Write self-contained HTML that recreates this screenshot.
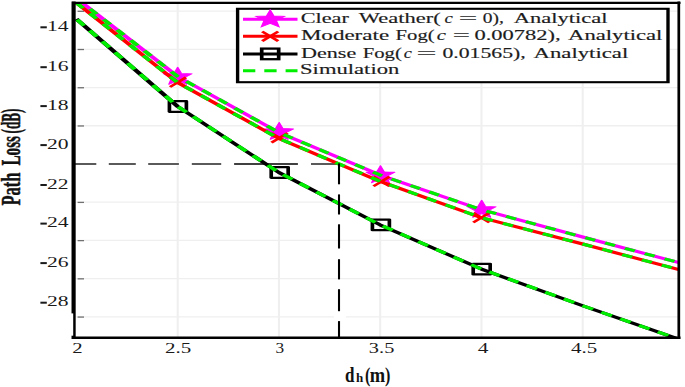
<!DOCTYPE html><html><head><meta charset="utf-8"><style>html,body{margin:0;padding:0;background:#fff;overflow:hidden;}svg{display:block;}text{font-family:"Liberation Serif",serif;}</style></head><body>
<svg width="685" height="387" viewBox="0 0 685 387">
<rect width="685" height="387" fill="#fff"/>
<g>
<defs><clipPath id="cp"><rect x="46.00" y="2.90" width="378.25" height="334.80"/></clipPath></defs>
<g transform="scale(1.6,1)">
<g stroke="#efefef" stroke-width="1.3"><line x1="111.06" y1="2.9" x2="111.06" y2="337.7"/><line x1="174.34" y1="80" x2="174.34" y2="337.7"/><line x1="237.62" y1="80" x2="237.62" y2="337.7"/><line x1="300.91" y1="80" x2="300.91" y2="337.7"/><line x1="364.19" y1="80" x2="364.19" y2="337.7"/><line x1="46.00" y1="11.10" x2="424.25" y2="11.10"/><line x1="46.00" y1="49.32" x2="424.25" y2="49.32"/><line x1="46.00" y1="87.54" x2="424.25" y2="87.54"/><line x1="46.00" y1="125.76" x2="424.25" y2="125.76"/><line x1="46.00" y1="163.98" x2="424.25" y2="163.98"/><line x1="46.00" y1="202.20" x2="424.25" y2="202.20"/><line x1="46.00" y1="240.42" x2="424.25" y2="240.42"/><line x1="46.00" y1="278.64" x2="424.25" y2="278.64"/><line x1="46.00" y1="316.86" x2="424.25" y2="316.86"/></g>
<g stroke="#707070" stroke-width="1.3"><line x1="48.50" y1="11.30" x2="52.50" y2="11.30"/><line x1="48.50" y1="49.52" x2="52.50" y2="49.52"/><line x1="48.50" y1="87.74" x2="52.50" y2="87.74"/><line x1="48.50" y1="125.96" x2="52.50" y2="125.96"/><line x1="48.50" y1="164.18" x2="52.50" y2="164.18"/><line x1="48.50" y1="202.40" x2="52.50" y2="202.40"/><line x1="48.50" y1="240.62" x2="52.50" y2="240.62"/><line x1="48.50" y1="278.84" x2="52.50" y2="278.84"/><line x1="48.50" y1="317.06" x2="52.50" y2="317.06"/></g>
<line x1="212.81" y1="164.0" x2="46.00" y2="164.0" stroke="#fff" stroke-width="3"/>
<rect x="208.62" y="315.36" width="7.50" height="3" fill="#fff"/>
<g stroke="#000" stroke-width="1.3"><line x1="46.25" y1="164.0" x2="60.19" y2="164.0"/><line x1="68.00" y1="164.0" x2="84.88" y2="164.0"/><line x1="92.62" y1="164.0" x2="111.81" y2="164.0"/><line x1="119.88" y1="164.0" x2="138.25" y2="164.0"/><line x1="146.31" y1="164.0" x2="186.19" y2="164.0"/><line x1="194.38" y1="164.0" x2="212.69" y2="164.0"/></g>
<g clip-path="url(#cp)" fill="none" stroke-linejoin="round">
<polyline points="47.78,-1.60 111.06,76.50 174.34,132.50 237.62,175.10 300.91,209.70 364.19,237.00 427.47,264.00" stroke="#ff00ff" stroke-width="3.0"/>
<polygon points="111.06,67.25 113.44,73.42 120.05,73.78 114.91,77.95 116.62,84.35 111.06,80.75 105.51,84.35 107.21,77.95 102.08,73.78 108.68,73.42" fill="#ff00ff" stroke="#ff00ff" stroke-width="0.8"/>
<polygon points="174.50,122.35 176.88,128.52 183.49,128.88 178.35,133.05 180.05,139.45 174.50,135.85 168.95,139.45 170.65,133.05 165.51,128.88 172.12,128.52" fill="#ff00ff" stroke="#ff00ff" stroke-width="0.8"/>
<polygon points="237.81,165.65 240.19,171.82 246.80,172.18 241.66,176.35 243.37,182.75 237.81,179.15 232.26,182.75 233.96,176.35 228.83,172.18 235.43,171.82" fill="#ff00ff" stroke="#ff00ff" stroke-width="0.8"/>
<polygon points="301.06,200.25 303.44,206.42 310.05,206.78 304.91,210.95 306.62,217.35 301.06,213.75 295.51,217.35 297.21,210.95 292.08,206.78 298.68,206.42" fill="#ff00ff" stroke="#ff00ff" stroke-width="0.8"/>
<polyline points="47.78,2.80 111.06,82.60 174.34,138.50 237.62,181.40 300.91,217.70 364.19,244.00 427.47,271.00" stroke="#ff0000" stroke-width="3.0"/>
<path d="M106.25,77.40L116.25,87.00M106.25,87.00L116.25,77.40" stroke="#ff0000" stroke-width="2.2"/>
<path d="M169.69,133.00L179.69,142.60M169.69,142.60L179.69,133.00" stroke="#ff0000" stroke-width="2.2"/>
<path d="M233.44,176.60L243.44,186.20M233.44,186.20L243.44,176.60" stroke="#ff0000" stroke-width="2.2"/>
<path d="M295.81,212.90L305.81,222.50M295.81,222.50L305.81,212.90" stroke="#ff0000" stroke-width="2.2"/>
<polyline points="47.78,19.00 111.06,106.50 174.34,172.50 237.62,224.90 300.91,269.10 364.19,305.70 427.47,341.00" stroke="#000" stroke-width="3.0"/>
<rect x="105.89" y="101.20" width="10.60" height="10.60" stroke="#000" stroke-width="2.3"/>
<rect x="169.51" y="167.20" width="10.60" height="10.60" stroke="#000" stroke-width="2.3"/>
<rect x="232.76" y="219.60" width="10.60" height="10.60" stroke="#000" stroke-width="2.3"/>
<rect x="295.76" y="263.80" width="10.60" height="10.60" stroke="#000" stroke-width="2.3"/>
<polyline points="47.78,-1.60 111.06,76.50 174.34,132.50 237.62,175.10 300.91,209.70 364.19,237.00 427.47,264.00" stroke="#00ee00" stroke-width="3.0" stroke-dasharray="6.735 6.735" stroke-dashoffset="0"/>
<polyline points="47.78,2.80 111.06,82.60 174.34,138.50 237.62,181.40 300.91,217.70 364.19,244.00 427.47,271.00" stroke="#00ee00" stroke-width="3.0" stroke-dasharray="6.735 6.735" stroke-dashoffset="0"/>
<polyline points="47.78,19.00 111.06,106.50 174.34,172.50 237.62,224.90 300.91,269.10 364.19,305.70 427.47,341.00" stroke="#00ee00" stroke-width="3.0" stroke-dasharray="7.5 5.97" stroke-dashoffset="-0.72"/>
</g>
<g stroke="#000" stroke-width="1.3"><line x1="211.88" y1="163.4" x2="211.88" y2="184.3"/><line x1="211.88" y1="194.4" x2="211.88" y2="214.5"/><line x1="211.88" y1="224.3" x2="211.88" y2="248.5"/><line x1="211.88" y1="259.2" x2="211.88" y2="279.4"/><line x1="211.88" y1="289.2" x2="211.88" y2="311.2"/><line x1="211.88" y1="321.1" x2="211.88" y2="337.5"/></g>
<g stroke="#000" fill="none"><line x1="46.00" y1="1.6" x2="46.00" y2="339" stroke-width="2.6"/><line x1="424.25" y1="1.6" x2="424.25" y2="339" stroke-width="1.7"/><line x1="45.00" y1="2.9" x2="425.31" y2="2.9" stroke-width="2.2"/><line x1="45.00" y1="337.7" x2="425.31" y2="337.7" stroke-width="2.4"/></g>
<rect x="44.06" y="313.4" width="1.69" height="22.3" fill="#fff"/>
<rect x="148.50" y="8.8" width="269.00" height="73.40" fill="#fff" stroke="#000" stroke-width="2.1"/>
<line x1="151.88" y1="19.3" x2="185.94" y2="19.3" stroke="#ff00ff" stroke-width="3.0"/>
<polygon points="168.87,9.85 171.26,16.02 177.86,16.38 172.73,20.55 174.43,26.95 168.87,23.35 163.32,26.95 165.02,20.55 159.89,16.38 166.49,16.02" fill="#ff00ff" stroke="#ff00ff" stroke-width="0.8"/>
<line x1="151.88" y1="36.3" x2="185.94" y2="36.3" stroke="#ff0000" stroke-width="3.0"/>
<path d="M163.87,31.50L173.87,41.10M163.87,41.10L173.87,31.50" stroke="#ff0000" stroke-width="2.2" fill="none"/>
<line x1="151.88" y1="53.9" x2="185.94" y2="53.9" stroke="#000" stroke-width="3.0"/>
<rect x="163.57" y="48.60" width="10.60" height="10.60" stroke="#000" stroke-width="2.3" fill="none"/>
<line x1="151.88" y1="70.7" x2="185.94" y2="70.7" stroke="#00ee00" stroke-width="3.0" stroke-dasharray="7.69 5.62"/>
</g>
<text x="300.71" y="22.5" font-size="13.6" font-weight="normal" font-style="normal" fill="#1c1c1c" textLength="48.24" lengthAdjust="spacingAndGlyphs" stroke="#1c1c1c" stroke-width="0.15">Clear</text>
<text x="358.80" y="22.5" font-size="13.6" font-weight="normal" font-style="normal" fill="#1c1c1c" textLength="81.86" lengthAdjust="spacingAndGlyphs" stroke="#1c1c1c" stroke-width="0.15">Weather(</text>
<text x="444.44" y="22.5" font-size="13.6" font-weight="normal" font-style="italic" fill="#1c1c1c" textLength="8.32" lengthAdjust="spacingAndGlyphs" stroke="#1c1c1c" stroke-width="0.15">c</text>
<text x="458.65" y="22.5" font-size="13.6" font-weight="normal" font-style="normal" fill="#1c1c1c" textLength="18.60" lengthAdjust="spacingAndGlyphs" stroke="#1c1c1c" stroke-width="0.15">=</text>
<text x="482.82" y="22.5" font-size="13.6" font-weight="normal" font-style="normal" fill="#1c1c1c" textLength="21.11" lengthAdjust="spacingAndGlyphs" stroke="#1c1c1c" stroke-width="0.15">0),</text>
<text x="513.77" y="22.5" font-size="13.6" font-weight="normal" font-style="normal" fill="#1c1c1c" textLength="93.77" lengthAdjust="spacingAndGlyphs" stroke="#1c1c1c" stroke-width="0.15">Analytical</text>
<text x="300.91" y="40.0" font-size="13.6" font-weight="normal" font-style="normal" fill="#1c1c1c" textLength="88.22" lengthAdjust="spacingAndGlyphs" stroke="#1c1c1c" stroke-width="0.15">Moderate</text>
<text x="395.58" y="40.0" font-size="13.6" font-weight="normal" font-style="normal" fill="#1c1c1c" textLength="39.02" lengthAdjust="spacingAndGlyphs" stroke="#1c1c1c" stroke-width="0.15">Fog(</text>
<text x="436.68" y="40.0" font-size="13.6" font-weight="normal" font-style="italic" fill="#1c1c1c" textLength="9.21" lengthAdjust="spacingAndGlyphs" stroke="#1c1c1c" stroke-width="0.15">c</text>
<text x="452.87" y="40.0" font-size="13.6" font-weight="normal" font-style="normal" fill="#1c1c1c" textLength="17.28" lengthAdjust="spacingAndGlyphs" stroke="#1c1c1c" stroke-width="0.15">=</text>
<text x="474.50" y="40.0" font-size="13.6" font-weight="normal" font-style="normal" fill="#1c1c1c" textLength="86.22" lengthAdjust="spacingAndGlyphs" stroke="#1c1c1c" stroke-width="0.15">0.00782),</text>
<text x="568.07" y="40.0" font-size="13.6" font-weight="normal" font-style="normal" fill="#1c1c1c" textLength="94.37" lengthAdjust="spacingAndGlyphs" stroke="#1c1c1c" stroke-width="0.15">Analytical</text>
<text x="300.94" y="57.5" font-size="13.6" font-weight="normal" font-style="normal" fill="#1c1c1c" textLength="55.31" lengthAdjust="spacingAndGlyphs" stroke="#1c1c1c" stroke-width="0.15">Dense</text>
<text x="362.78" y="57.5" font-size="13.6" font-weight="normal" font-style="normal" fill="#1c1c1c" textLength="39.12" lengthAdjust="spacingAndGlyphs" stroke="#1c1c1c" stroke-width="0.15">Fog(</text>
<text x="403.85" y="57.5" font-size="13.6" font-weight="normal" font-style="italic" fill="#1c1c1c" textLength="8.10" lengthAdjust="spacingAndGlyphs" stroke="#1c1c1c" stroke-width="0.15">c</text>
<text x="416.62" y="57.5" font-size="13.6" font-weight="normal" font-style="normal" fill="#1c1c1c" textLength="20.04" lengthAdjust="spacingAndGlyphs" stroke="#1c1c1c" stroke-width="0.15">=</text>
<text x="442.43" y="57.5" font-size="13.6" font-weight="normal" font-style="normal" fill="#1c1c1c" textLength="83.24" lengthAdjust="spacingAndGlyphs" stroke="#1c1c1c" stroke-width="0.15">0.01565),</text>
<text x="533.57" y="57.5" font-size="13.6" font-weight="normal" font-style="normal" fill="#1c1c1c" textLength="94.67" lengthAdjust="spacingAndGlyphs" stroke="#1c1c1c" stroke-width="0.15">Analytical</text>
<text x="300.02" y="74.1" font-size="13.6" font-weight="normal" font-style="normal" fill="#1c1c1c" textLength="99.32" lengthAdjust="spacingAndGlyphs" stroke="#1c1c1c" stroke-width="0.15">Simulation</text>
<text x="47.0" y="30.9" font-size="14.2" fill="#1a1a1a"  textLength="21.6" lengthAdjust="spacingAndGlyphs">14</text>
<rect x="40.4" y="26.30" width="6.4" height="2.0" fill="#1a1a1a"/>
<text x="47.0" y="70.8" font-size="14.2" fill="#1a1a1a"  textLength="21.6" lengthAdjust="spacingAndGlyphs">16</text>
<rect x="40.4" y="66.20" width="6.4" height="2.0" fill="#1a1a1a"/>
<text x="47.0" y="109.7" font-size="14.2" fill="#1a1a1a"  textLength="21.6" lengthAdjust="spacingAndGlyphs">18</text>
<rect x="40.4" y="105.10" width="6.4" height="2.0" fill="#1a1a1a"/>
<text x="47.0" y="148.7" font-size="14.2" fill="#1a1a1a"  textLength="21.6" lengthAdjust="spacingAndGlyphs">20</text>
<rect x="40.4" y="144.10" width="6.4" height="2.0" fill="#1a1a1a"/>
<text x="47.0" y="188.6" font-size="14.2" fill="#1a1a1a"  textLength="21.6" lengthAdjust="spacingAndGlyphs">22</text>
<rect x="40.4" y="184.00" width="6.4" height="2.0" fill="#1a1a1a"/>
<text x="47.0" y="227.2" font-size="14.2" fill="#1a1a1a"  textLength="21.6" lengthAdjust="spacingAndGlyphs">24</text>
<rect x="40.4" y="222.60" width="6.4" height="2.0" fill="#1a1a1a"/>
<text x="47.0" y="266.7" font-size="14.2" fill="#1a1a1a"  textLength="21.6" lengthAdjust="spacingAndGlyphs">26</text>
<rect x="40.4" y="262.10" width="6.4" height="2.0" fill="#1a1a1a"/>
<text x="47.0" y="306.3" font-size="14.2" fill="#1a1a1a"  textLength="21.6" lengthAdjust="spacingAndGlyphs">28</text>
<rect x="40.4" y="301.70" width="6.4" height="2.0" fill="#1a1a1a"/>
<text x="72.37" y="352.8" font-size="14.5" font-weight="normal" font-style="normal" fill="#1a1a1a" textLength="10.37" lengthAdjust="spacingAndGlyphs" >2</text>
<text x="164.96" y="352.8" font-size="14.5" font-weight="normal" font-style="normal" fill="#1a1a1a" textLength="26.28" lengthAdjust="spacingAndGlyphs" >2.5</text>
<text x="275.63" y="352.8" font-size="14.5" font-weight="normal" font-style="normal" fill="#1a1a1a" textLength="8.66" lengthAdjust="spacingAndGlyphs" >3</text>
<text x="368.88" y="352.8" font-size="14.5" font-weight="normal" font-style="normal" fill="#1a1a1a" textLength="25.43" lengthAdjust="spacingAndGlyphs" >3.5</text>
<text x="477.77" y="352.8" font-size="14.5" font-weight="normal" font-style="normal" fill="#1a1a1a" textLength="10.65" lengthAdjust="spacingAndGlyphs" >4</text>
<text x="570.98" y="352.8" font-size="14.5" font-weight="normal" font-style="normal" fill="#1a1a1a" textLength="26.16" lengthAdjust="spacingAndGlyphs" >4.5</text>
<text x="345.12" y="381.8" font-size="21.5" font-weight="bold" font-style="normal" fill="#111" textLength="9.49" lengthAdjust="spacingAndGlyphs" >d</text>
<text x="356.04" y="381.8" font-size="11.5" font-weight="bold" font-style="normal" fill="#111" textLength="7.27" lengthAdjust="spacingAndGlyphs" >h</text>
<text x="365.05" y="382.40000000000003" font-size="20.0" font-weight="bold" font-style="normal" fill="#111" textLength="5.38" lengthAdjust="spacingAndGlyphs" >(</text>
<text x="369.85" y="381.8" font-size="21.5" font-weight="bold" font-style="normal" fill="#111" textLength="15.39" lengthAdjust="spacingAndGlyphs" >m</text>
<text x="385.12" y="382.40000000000003" font-size="20.0" font-weight="bold" font-style="normal" fill="#111" textLength="5.38" lengthAdjust="spacingAndGlyphs" >)</text>
<g transform="translate(0,387) rotate(-90)">
<text x="181.47" y="20.4" font-size="28.0" font-weight="bold" font-style="normal" fill="#111" textLength="32.85" lengthAdjust="spacingAndGlyphs" stroke="#111" stroke-width="0.5">Path</text>
<text x="221.40" y="20.4" font-size="28.0" font-weight="bold" font-style="normal" fill="#111" textLength="29.59" lengthAdjust="spacingAndGlyphs" stroke="#111" stroke-width="0.5">Loss</text>
<text x="253.47" y="20.4" font-size="28.0" font-weight="bold" font-style="normal" fill="#111" textLength="25.05" lengthAdjust="spacingAndGlyphs" stroke="#111" stroke-width="0.5">(dB)</text>
</g>
</g>
</svg></body></html>
